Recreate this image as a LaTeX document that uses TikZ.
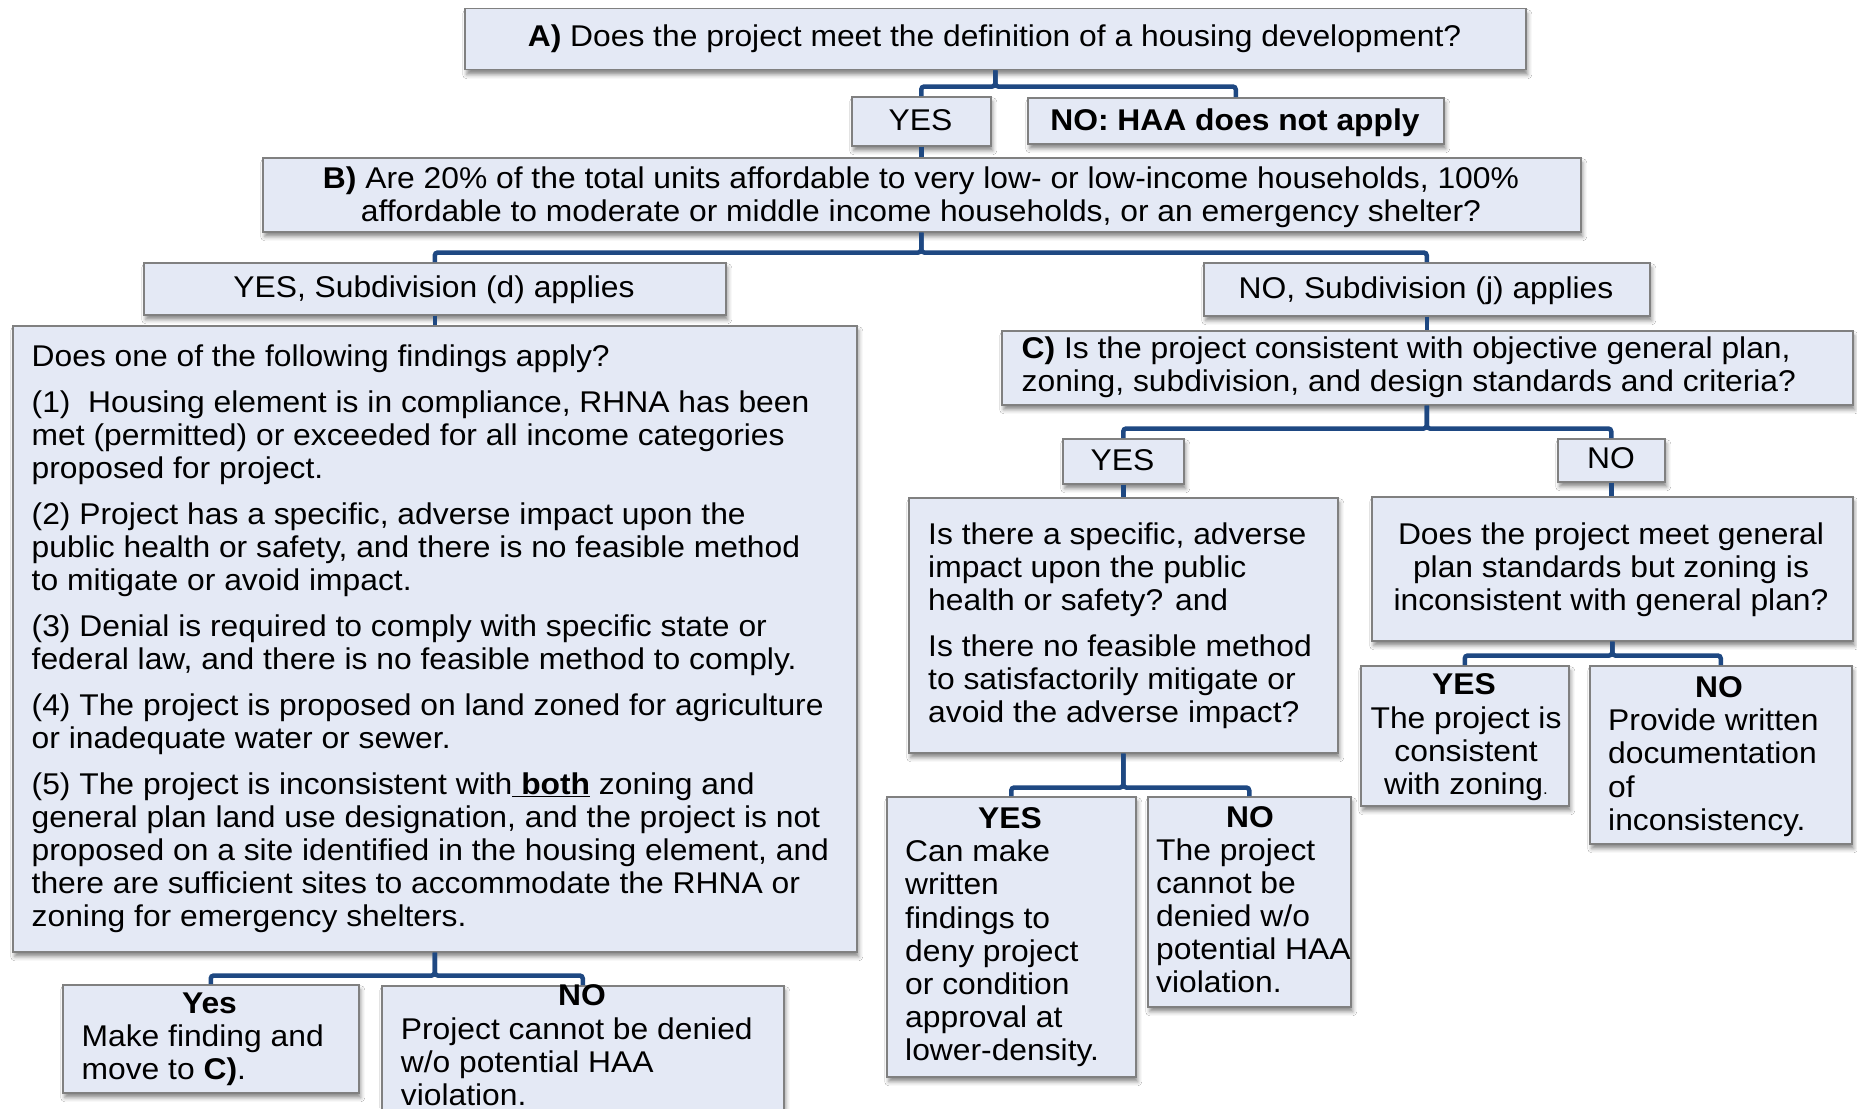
\documentclass[tikz,border=0pt]{standalone}
\usepackage{fontspec}
\setmainfont[FakeStretch=1.06]{Liberation Sans}
\usetikzlibrary{shadows.blur}
\definecolor{boxfill}{RGB}{228,233,245}
\definecolor{boxline}{RGB}{128,128,128}
\definecolor{connblue}{RGB}{30,72,130}
\newcommand{\ptxt}[1]{\parbox[t]{1000pt}{\raggedright #1}}
\newcommand{\ctxt}[2]{\parbox[t]{#1}{\centering #2}}
\begin{document}
\begin{tikzpicture}[x=1pt,y=-1pt,
  box/.style={draw=boxline, line width=1.5pt, fill=boxfill, inner sep=0pt, anchor=north west,
    blur shadow={shadow xshift=2pt, shadow yshift=-5pt, shadow blur radius=4pt, shadow opacity=45}},
  txt/.style={inner sep=0pt, text=black, font=\fontsize{30}{33.2}\selectfont},
  ftxt/.style={inner sep=0pt, text=black, font=\fontsize{30}{33.0}\selectfont},
  ctr/.style={txt, anchor=base},
  lft/.style={txt, anchor=base west},
  conn/.style={draw=connblue, line width=4.5pt, rounded corners=3pt}
]
\useasboundingbox (0,0) rectangle (1857,1108);
\clip (0,0) rectangle (1857,1108);
\fill[white] (0,0) rectangle (1857,1108);

% ---------- boxes ----------
\node[box, minimum width=1061pt, minimum height=61pt] (A) at (464,8) {};
\node[box, minimum width=139pt, minimum height=49pt] (yes1) at (851,96) {};
\node[box, minimum width=416pt, minimum height=46pt] (no1) at (1027,97) {};
\node[box, minimum width=1318pt, minimum height=74pt] (B) at (262,157) {};
\node[box, minimum width=582pt, minimum height=52pt] (yesd) at (143,262) {};
\node[box, minimum width=446pt, minimum height=53pt] (noj) at (1203,262) {};
\node[box, minimum width=844pt, minimum height=626pt] (find) at (12,325) {};
\node[box, minimum width=851pt, minimum height=74pt] (C) at (1001,330) {};
\node[box, minimum width=121pt, minimum height=45pt] (yesc) at (1062,438) {};
\node[box, minimum width=107pt, minimum height=43pt] (noc) at (1557,438) {};
\node[box, minimum width=429pt, minimum height=255pt] (spec) at (908,497) {};
\node[box, minimum width=481pt, minimum height=144pt] (gen) at (1371,496) {};
\node[box, minimum width=208pt, minimum height=140pt] (yesz) at (1360,665) {};
\node[box, minimum width=262pt, minimum height=178pt] (noz) at (1589,665) {};
\node[box, minimum width=249pt, minimum height=280pt] (yesw) at (886,796) {};
\node[box, minimum width=203pt, minimum height=210pt] (now) at (1147,796) {};
\node[box, minimum width=296pt, minimum height=108pt] (yesb) at (62,984) {};
\node[box, minimum width=402pt, minimum height=150pt] (nob) at (381,985) {};

% ---------- texts ----------
\node[ctr] (tA) at (994.5,46.5) {\textbf{A)} Does the project meet the definition of a housing development?};
\node[ctr] (tyes1) at (920.5,130) {YES};
\node[ctr] (tno1) at (1235,130) {\textbf{NO: HAA does not apply}};
\node[ctr] (tB) at (921,188) {\ctxt{1300pt}{\textbf{B)} Are 20\% of the total units affordable to very low- or low-income households, 100\%\\affordable to moderate or middle income households, or an emergency shelter?}};
\node[ctr] (tyesd) at (434,297.5) {YES, Subdivision (d) applies};
\node[ctr] (tnoj) at (1426,298) {NO, Subdivision (j) applies};
\node[ftxt, anchor=base west] (tfind) at (31.5,366.7) {\ptxt{Does one of the following findings apply?\\[13pt]
(1)\ \ Housing element is in compliance, RHNA has been\\
met (permitted) or exceeded for all income categories\\
proposed for project.\\[13pt]
(2) Project has a specific, adverse impact upon the\\
public health or safety, and there is no feasible method\\
to mitigate or avoid impact.\\[13pt]
(3) Denial is required to comply with specific state or\\
federal law, and there is no feasible method to comply.\\[13pt]
(4) The project is proposed on land zoned for agriculture\\
or inadequate water or sewer.\\[13pt]
(5) The project is inconsistent with\underline{\textbf{\ both}} zoning and\\
general plan land use designation, and the project is not\\
proposed on a site identified in the housing element, and\\
there are sufficient sites to accommodate the RHNA or\\
zoning for emergency shelters.}};
\node[lft] (tC) at (1021.5,358) {\ptxt{\textbf{C)} Is the project consistent with objective general plan,\\zoning, subdivision, and design standards and criteria?}};
\node[ctr] (tyesc) at (1122.5,470) {YES};
\node[ctr] (tnoc) at (1611,468) {NO};
\node[lft] (tspec) at (928,544.3) {\ptxt{Is there a specific, adverse\\impact upon the public\\health or safety? and\\[12.4pt]Is there no feasible method\\to satisfactorily mitigate or\\avoid the adverse impact?}};
\node[ctr] (tgen) at (1611,544.5) {\ctxt{470pt}{Does the project meet general\\plan standards but zoning is\\inconsistent with general plan?}};
\node[ctr] (tyesz) at (1464,694) {\textbf{YES}};
\node[ctr] (byesz) at (1466,728.3) {\ctxt{200pt}{The project is\\consistent\\with zoning{\fontsize{16}{18}\selectfont .}}};
\node[ctr] (tnoz) at (1719,697) {\textbf{NO}};
\node[lft] (bnoz) at (1608,730.7) {\ptxt{Provide written\\documentation\\of\\inconsistency.}};
\node[ctr] (tyesw) at (1010,828.3) {\textbf{YES}};
\node[lft] (byesw) at (905,861.7) {\ptxt{Can make\\written\\findings to\\deny project\\or condition\\approval at\\lower-density.}};
\node[ctr] (tnow) at (1250,827.3) {\textbf{NO}};
\node[lft] (bnow) at (1156,860) {\ptxt{The project\\cannot be\\denied w/o\\potential HAA\\violation.}};
\node[ctr] (tyesb) at (209.5,1013.3) {\textbf{Yes}};
\node[lft] (byesb) at (81.4,1046.7) {\ptxt{Make finding and\\move to \textbf{C)}.}};
\node[ctr] (tnob) at (582,1005.7) {\textbf{NO}};
\node[lft] (bnob) at (400.7,1039.3) {\ptxt{Project cannot be denied\\w/o potential HAA\\violation.}};

% ---------- connectors ----------
\draw[conn] (A.south) -- ++(0,16) -| (yes1.north);
\draw[conn] (A.south) -- ++(0,16) -| (no1.north);
\draw[conn] (yes1.south) -- (B.north -| yes1.south);
\draw[conn] (B.south -| yes1.south) -- ++(0,20) -| (yesd.north);
\draw[conn] (B.south -| yes1.south) -- ++(0,20) -| (noj.north);
\draw[conn] (yesd.south) -- (find.north -| yesd.south);
\draw[conn] (noj.south) -- (C.north -| noj.south);
\draw[conn] (C.south -| noj.south) -- ++(0,23) -| (yesc.north);
\draw[conn] (C.south -| noj.south) -- ++(0,23) -| (noc.north);
\draw[conn] (yesc.south) -- (spec.north -| yesc.south);
\draw[conn] (noc.south) -- (gen.north -| noc.south);
\draw[conn] (gen.south) -- ++(0,14) -| (yesz.north);
\draw[conn] (gen.south) -- ++(0,14) -| (noz.north);
\draw[conn] (spec.south) -- ++(0,34) -| (yesw.north);
\draw[conn] (spec.south) -- ++(0,34) -| (now.north);
\draw[conn] (find.south -| yesd.south) -- ++(0,23) -| (yesb.north);
\draw[conn] (find.south -| yesd.south) -- ++(0,23) -| (nob.north);
\end{tikzpicture}
\end{document}
